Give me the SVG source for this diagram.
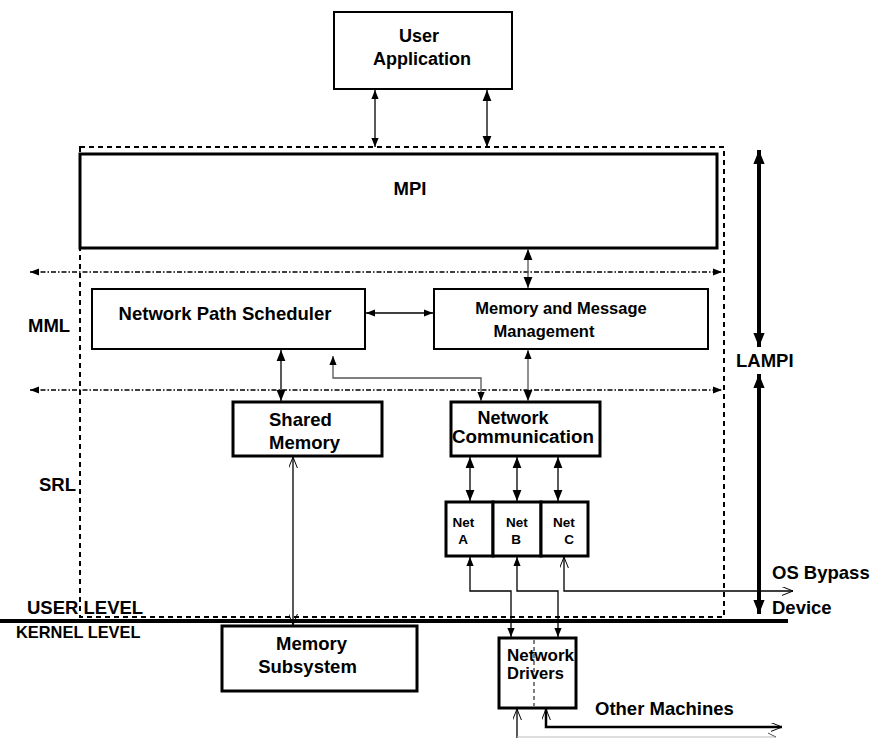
<svg xmlns="http://www.w3.org/2000/svg" width="870" height="738" viewBox="0 0 870 738">
<defs>
<style>
.box{fill:#fff;stroke:#000;stroke-width:2}
.boxt{fill:#fff;stroke:#000;stroke-width:3}
.t{font-family:"Liberation Sans",Arial,sans-serif;font-weight:bold;fill:#000}
.c{fill:none;stroke:#000;stroke-width:1.3}
.cg{fill:none;stroke:#555;stroke-width:1.3}
.dd{fill:none;stroke:#000;stroke-width:1.6;stroke-dasharray:5 2 1.5 2}
</style>
<marker id="a" viewBox="0 0 10 8" refX="10" refY="4" markerWidth="9" markerHeight="8" markerUnits="userSpaceOnUse" orient="auto-start-reverse"><path d="M0,0 L10,4 L0,8 z" fill="#000"/></marker>
<marker id="am" viewBox="0 0 10 8" refX="10" refY="4" markerWidth="11" markerHeight="10" markerUnits="userSpaceOnUse" orient="auto-start-reverse"><path d="M0,0 L10,4 L0,8 z" fill="#000"/></marker>
<marker id="ab" viewBox="0 0 10 8" refX="10" refY="4" markerWidth="14" markerHeight="13" markerUnits="userSpaceOnUse" orient="auto-start-reverse"><path d="M0,0 L10,4 L0,8 z" fill="#000"/></marker>
<marker id="o" viewBox="0 0 10 8" refX="10" refY="4" markerWidth="11" markerHeight="9" markerUnits="userSpaceOnUse" orient="auto-start-reverse"><path d="M0,0 L10,4 L0,8" fill="none" stroke="#000" stroke-width="0.9"/></marker>
</defs>
<rect width="870" height="738" fill="#fff"/>

<!-- outer dashed LAMPI region -->
<rect x="80" y="147" width="644" height="470" fill="none" stroke="#000" stroke-width="2" stroke-dasharray="5 4"/>

<g id="user-app"><rect class="box" x="334" y="12" width="178" height="77"/>
<text class="t" x="419" y="42" font-size="18" text-anchor="middle">User</text>
<text class="t" x="422" y="65" font-size="18" text-anchor="middle">Application</text></g>

<g id="mpi"><rect class="boxt" x="80" y="154" width="637" height="94"/>
<text class="t" x="410" y="195" font-size="18.5" text-anchor="middle">MPI</text></g>

<g id="nps"><rect class="box" x="92" y="289" width="273" height="60"/>
<text class="t" x="225" y="320" font-size="18.5" text-anchor="middle">Network Path Scheduler</text></g>

<g id="mmm"><rect class="box" x="434" y="289" width="274" height="60"/>
<text class="t" x="561" y="314" font-size="16.5" text-anchor="middle">Memory and Message</text>
<text class="t" x="544" y="337" font-size="16.5" text-anchor="middle">Management</text></g>

<g id="shared-memory"><rect class="boxt" x="233" y="402" width="149" height="54"/>
<text class="t" x="269" y="426" font-size="18.5">Shared</text>
<text class="t" x="269" y="449" font-size="18.5">Memory</text></g>

<g id="net-comm"><rect class="boxt" x="451" y="402" width="149" height="54"/>
<text class="t" x="513" y="424" font-size="18" text-anchor="middle">Network</text>
<text class="t" x="523" y="443" font-size="18" text-anchor="middle" textLength="142" lengthAdjust="spacingAndGlyphs">Communication</text></g>

<g id="net-a"><rect class="boxt" x="446" y="502" width="47" height="54"/>
<text class="t" x="463.5" y="527" font-size="13.5" text-anchor="middle">Net</text>
<text class="t" x="463" y="544" font-size="13.5" text-anchor="middle">A</text></g>
<g id="net-b"><rect class="boxt" x="493" y="502" width="48" height="54"/>
<text class="t" x="517" y="527" font-size="13.5" text-anchor="middle">Net</text>
<text class="t" x="516" y="544" font-size="13.5" text-anchor="middle">B</text></g>
<g id="net-c"><rect class="boxt" x="541" y="502" width="47" height="54"/>
<text class="t" x="564" y="527" font-size="13.5" text-anchor="middle">Net</text>
<text class="t" x="569" y="544" font-size="13.5" text-anchor="middle">C</text></g>

<g id="mem-sub"><rect class="boxt" x="222" y="626" width="195" height="65"/>
<text class="t" x="311.5" y="650" font-size="18.5" text-anchor="middle">Memory</text>
<text class="t" x="307.5" y="673" font-size="18.5" text-anchor="middle">Subsystem</text></g>

<g id="net-drivers"><rect class="boxt" x="499" y="638" width="77" height="70"/>
<line x1="534" y1="640" x2="534" y2="706" stroke="#000" stroke-width="1" stroke-dasharray="4 3"/>
<text class="t" x="507" y="661" font-size="16.5" textLength="67" lengthAdjust="spacingAndGlyphs">Network</text>
<text class="t" x="507" y="679" font-size="16.5">Drivers</text></g>

<g id="labels">
<text class="t" x="28" y="332" font-size="18.5">MML</text>
<text class="t" x="39" y="491" font-size="18.5">SRL</text>
<text class="t" x="27" y="614" font-size="18.5">USER LEVEL</text>
<text class="t" x="16" y="638" font-size="16.4">KERNEL LEVEL</text>
<text class="t" x="736" y="367" font-size="18.5">LAMPI</text>
<text class="t" x="772" y="579" font-size="18.5">OS Bypass</text>
<text class="t" x="772" y="614" font-size="18.5">Device</text>
<text class="t" x="595" y="715" font-size="18.5">Other Machines</text>
</g>

<g id="connectors">
<line x1="0" y1="621" x2="788" y2="621" stroke="#000" stroke-width="4"/>
<line class="dd" x1="30" y1="272" x2="722" y2="272" marker-start="url(#a)" marker-end="url(#a)"/>
<line class="dd" x1="30" y1="390" x2="722" y2="390" marker-start="url(#a)" marker-end="url(#a)"/>
<line class="c" x1="375" y1="90" x2="375" y2="147" marker-start="url(#a)" marker-end="url(#a)"/>
<line class="c" x1="487" y1="90" x2="487" y2="147" stroke-width="1.6" marker-start="url(#am)" marker-end="url(#am)"/>
<line class="cg" x1="528" y1="249" x2="528" y2="288" marker-start="url(#am)" marker-end="url(#am)"/>
<line class="c" x1="366" y1="313" x2="433" y2="313" marker-start="url(#a)" marker-end="url(#a)"/>
<line class="c" x1="281" y1="350" x2="281" y2="401" stroke-width="2" marker-start="url(#am)" marker-end="url(#am)"/>
<path class="cg" d="M333,356 L333,378 L481,378 L481,401" marker-start="url(#a)" marker-end="url(#a)"/>
<line class="cg" x1="528" y1="350" x2="528" y2="401" marker-start="url(#a)" marker-end="url(#am)"/>
<line class="c" x1="293" y1="457" x2="293" y2="625" marker-start="url(#o)" marker-end="url(#o)"/>
<line class="c" x1="470" y1="457" x2="470" y2="501" stroke-width="1.6" marker-start="url(#am)" marker-end="url(#am)"/>
<line class="c" x1="517" y1="457" x2="517" y2="501" stroke-width="1.6" marker-start="url(#am)" marker-end="url(#am)"/>
<line class="c" x1="558" y1="457" x2="558" y2="501" stroke-width="1.6" marker-start="url(#am)" marker-end="url(#am)"/>
<path class="c" d="M470,557 L470,591 L511,591 L511,637" marker-start="url(#a)" marker-end="url(#a)"/>
<path class="c" d="M517,557 L517,591 L558,591 L558,637" marker-start="url(#a)" marker-end="url(#a)"/>
<path class="c" d="M564,557 L564,591 L793,591" stroke-width="1" marker-start="url(#o)" marker-end="url(#o)"/>
<line x1="759" y1="150" x2="759" y2="347" stroke="#000" stroke-width="4" marker-start="url(#ab)" marker-end="url(#ab)"/>
<line x1="759" y1="374" x2="759" y2="614" stroke="#000" stroke-width="4" marker-start="url(#ab)" marker-end="url(#ab)"/>
<line class="c" x1="517" y1="709" x2="517" y2="738" marker-start="url(#o)"/>
<path d="M546,709 L546,727 L782,727" fill="none" stroke="#000" stroke-width="2.5" marker-start="url(#o)" marker-end="url(#o)"/>
<line x1="517" y1="737" x2="776" y2="737" stroke="#bbb" stroke-width="1"/>
<line x1="768" y1="733" x2="776" y2="737" stroke="#555" stroke-width="1"/>
</g>
</svg>
